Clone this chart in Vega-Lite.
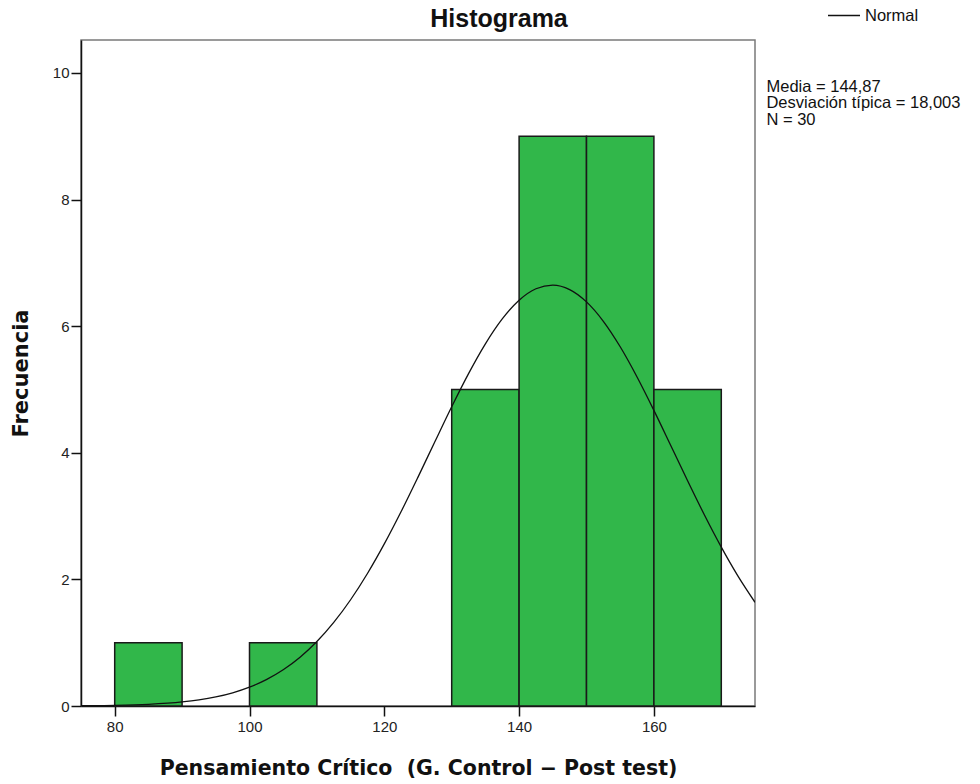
{
  "$schema": "https://vega.github.io/schema/vega-lite/v6.json",
  "autosize": "none",
  "width": 674,
  "height": 666,
  "padding": {"left": 81, "top": 40, "right": 225, "bottom": 78},
  "background": "white",
  "config": {
    "view": {"stroke": "#7a7a7a", "strokeWidth": 1.5},
    "font": "Liberation Sans",
    "axis": {
      "grid": false,
      "domainColor": "#111",
      "domainWidth": 1.5,
      "tickColor": "#111",
      "tickWidth": 1.5,
      "tickSize": 10,
      "labelFont": "Liberation Sans",
      "labelFontSize": 15,
      "labelColor": "#222",
      "titleFont": "DejaVu Sans",
      "titleFontWeight": "bold",
      "titleColor": "#111"
    }
  },
  "title": {
    "text": "Histograma",
    "font": "Liberation Sans",
    "fontSize": 25,
    "fontWeight": "bold",
    "color": "#111",
    "anchor": "middle",
    "baseline": "alphabetic",
    "dx": 81,
    "offset": -45
  },
  "datasets": {
    "barras": [
      {"desde": 80, "hasta": 90, "frecuencia": 1},
      {"desde": 100, "hasta": 110, "frecuencia": 1},
      {"desde": 130, "hasta": 140, "frecuencia": 5},
      {"desde": 140, "hasta": 150, "frecuencia": 9},
      {"desde": 150, "hasta": 160, "frecuencia": 9},
      {"desde": 160, "hasta": 170, "frecuencia": 5}
    ],
    "curva": [
      {"x": 74.8, "y": 0.0034, "serie": "Normal"},
      {"x": 77.5, "y": 0.0061, "serie": "Normal"},
      {"x": 80, "y": 0.0101, "serie": "Normal"},
      {"x": 85, "y": 0.0264, "serie": "Normal"},
      {"x": 90, "y": 0.0639, "serie": "Normal"},
      {"x": 92.5, "y": 0.0967, "serie": "Normal"},
      {"x": 95, "y": 0.1434, "serie": "Normal"},
      {"x": 97.5, "y": 0.2086, "serie": "Normal"},
      {"x": 100, "y": 0.2978, "serie": "Normal"},
      {"x": 102.5, "y": 0.4167, "serie": "Normal"},
      {"x": 105, "y": 0.5724, "serie": "Normal"},
      {"x": 107.5, "y": 0.7709, "serie": "Normal"},
      {"x": 110, "y": 1.0187, "serie": "Normal"},
      {"x": 112.5, "y": 1.3204, "serie": "Normal"},
      {"x": 115, "y": 1.6784, "serie": "Normal"},
      {"x": 117.5, "y": 2.0933, "serie": "Normal"},
      {"x": 120, "y": 2.5604, "serie": "Normal"},
      {"x": 122.5, "y": 3.072, "serie": "Normal"},
      {"x": 125, "y": 3.6155, "serie": "Normal"},
      {"x": 127.5, "y": 4.174, "serie": "Normal"},
      {"x": 130, "y": 4.7266, "serie": "Normal"},
      {"x": 132.5, "y": 5.2501, "serie": "Normal"},
      {"x": 135, "y": 5.7203, "serie": "Normal"},
      {"x": 137.5, "y": 6.1134, "serie": "Normal"},
      {"x": 140, "y": 6.4091, "serie": "Normal"},
      {"x": 142.5, "y": 6.5906, "serie": "Normal"},
      {"x": 145, "y": 6.6478, "serie": "Normal"},
      {"x": 147.5, "y": 6.5775, "serie": "Normal"},
      {"x": 150, "y": 6.3835, "serie": "Normal"},
      {"x": 152.5, "y": 6.077, "serie": "Normal"},
      {"x": 155, "y": 5.6747, "serie": "Normal"},
      {"x": 157.5, "y": 5.1977, "serie": "Normal"},
      {"x": 160, "y": 4.6702, "serie": "Normal"},
      {"x": 162.5, "y": 4.1158, "serie": "Normal"},
      {"x": 165, "y": 3.5578, "serie": "Normal"},
      {"x": 167.5, "y": 3.017, "serie": "Normal"},
      {"x": 170, "y": 2.5096, "serie": "Normal"},
      {"x": 172.5, "y": 2.0476, "serie": "Normal"},
      {"x": 175, "y": 1.6386, "serie": "Normal"}
    ],
    "estadisticos": [
      {"x": 176.7, "y": 9.7, "texto": "Media = 144,87"},
      {"x": 176.7, "y": 9.44, "texto": "Desviación típica = 18,003"},
      {"x": 176.7, "y": 9.18, "texto": "N = 30"}
    ]
  },
  "layer": [
    {
      "data": {"name": "barras"},
      "mark": {"type": "rect", "fill": "#31b74a", "stroke": "#1a1a1a", "strokeWidth": 1.5},
      "encoding": {
        "x": {
          "field": "desde", "type": "quantitative",
          "scale": {"domain": [75, 175], "nice": false, "zero": false},
          "axis": {"values": [80, 100, 120, 140, 160], "title": "Pensamiento Crítico \u00a0(G. Control − Post test)", "titleFontSize": 20.5, "labelPadding": 3, "titlePadding": 24}
        },
        "x2": {"field": "hasta"},
        "y": {
          "field": "frecuencia", "type": "quantitative",
          "scale": {"domain": [0, 10.52], "nice": false},
          "axis": {"values": [0, 2, 4, 6, 8, 10], "format": "d", "title": "Frecuencia", "titleFontSize": 21, "labelPadding": 2, "titlePadding": 21}
        },
        "y2": {"datum": 0}
      }
    },
    {
      "data": {"name": "curva"},
      "mark": {"type": "line", "interpolate": "monotone", "strokeWidth": 1.3, "clip": true},
      "encoding": {
        "x": {"field": "x", "type": "quantitative"},
        "y": {"field": "y", "type": "quantitative"},
        "stroke": {
          "field": "serie", "type": "nominal",
          "scale": {"range": ["#111"]},
          "legend": {
            "title": null,
            "orient": "none",
            "legendX": 746,
            "legendY": -33,
            "symbolType": "stroke",
            "symbolSize": 1024,
            "symbolStrokeWidth": 1.3,
            "clipHeight": 17,
            "labelFont": "Liberation Sans",
            "labelFontSize": 16.5,
            "labelColor": "#111",
            "labelOffset": 4
          }
        }
      }
    },
    {
      "data": {"name": "estadisticos"},
      "mark": {"type": "text", "align": "left", "baseline": "alphabetic", "font": "Liberation Sans", "fontSize": 16.5, "color": "#111"},
      "encoding": {
        "x": {"field": "x", "type": "quantitative"},
        "y": {"field": "y", "type": "quantitative"},
        "text": {"field": "texto"}
      }
    }
  ]
}
